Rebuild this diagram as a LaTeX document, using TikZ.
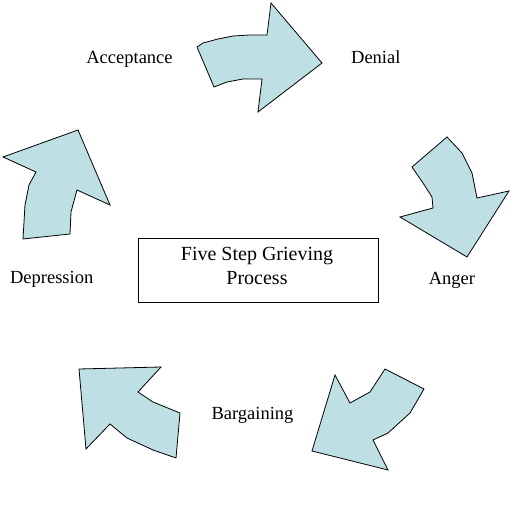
\documentclass[tikz,border=0pt]{standalone}
\usepackage{fontspec}
\setmainfont{Liberation Serif}
\definecolor{arrowfill}{RGB}{190,224,228}
\begin{document}
\begin{tikzpicture}[x=1pt,y=-1pt,
  arrowshape/.style={fill=arrowfill,draw=black,line width=0.8pt,line join=miter},
  lbl/.style={anchor=base,inner sep=0pt,font=\fontsize{18.5}{24}\selectfont},
  boxlbl/.style={anchor=base,inner sep=0pt,font=\fontsize{20}{24}\selectfont},
  titlebox/.style={draw=black,line width=0.8pt,minimum width=240pt,minimum height=64pt,inner sep=0pt}]
\useasboundingbox (0,0) rectangle (515,510);
% arrows
\draw[arrowshape] (197,47) -- (203,43) -- (218,39) -- (233,36) -- (250,35) -- (267,35) -- (271,3) -- (322,63) -- (258,112) -- (262,79) -- (243,79) -- (227,82) -- (214,87) -- cycle;
\draw[arrowshape] (447,137) -- (462,153) -- (472,173) -- (477,198) -- (509,191) -- (467,257) -- (400,217) -- (433,208) -- (432,197) -- (423,183) -- (412,167) -- cycle;
\draw[arrowshape] (385,369) -- (424,389) -- (410,413) -- (388,433) -- (373,440) -- (388,470) -- (312,451) -- (335,375) -- (350,403) -- (370,392) -- cycle;
\draw[arrowshape] (79,369) -- (161,367) -- (138,392) -- (153,402) -- (180,413) -- (176,458) -- (153,450) -- (127,438) -- (110,424) -- (86,449) -- cycle;
\draw[arrowshape] (3,157) -- (78,130) -- (110,205) -- (77,190) -- (71,212) -- (70,234) -- (23,239) -- (25,205) -- (29,185) -- (36,172) -- cycle;
% labels
\node[lbl] (acc) at (129.5,64) {Acceptance};
\node[lbl] (den) at (375.8,64) {Denial};
\node[lbl] (ang) at (452,285) {Anger};
\node[lbl] (bar) at (252.5,420) {Bargaining};
\node[lbl] (dep) at (51.7,284) {Depression};
\node[titlebox] (title) at (258,270) {};
\node[boxlbl] (line1) at (257,260.7) {Five Step Grieving};
\node[boxlbl] (line2) at (257,284.5) {Process};
\end{tikzpicture}
\end{document}
